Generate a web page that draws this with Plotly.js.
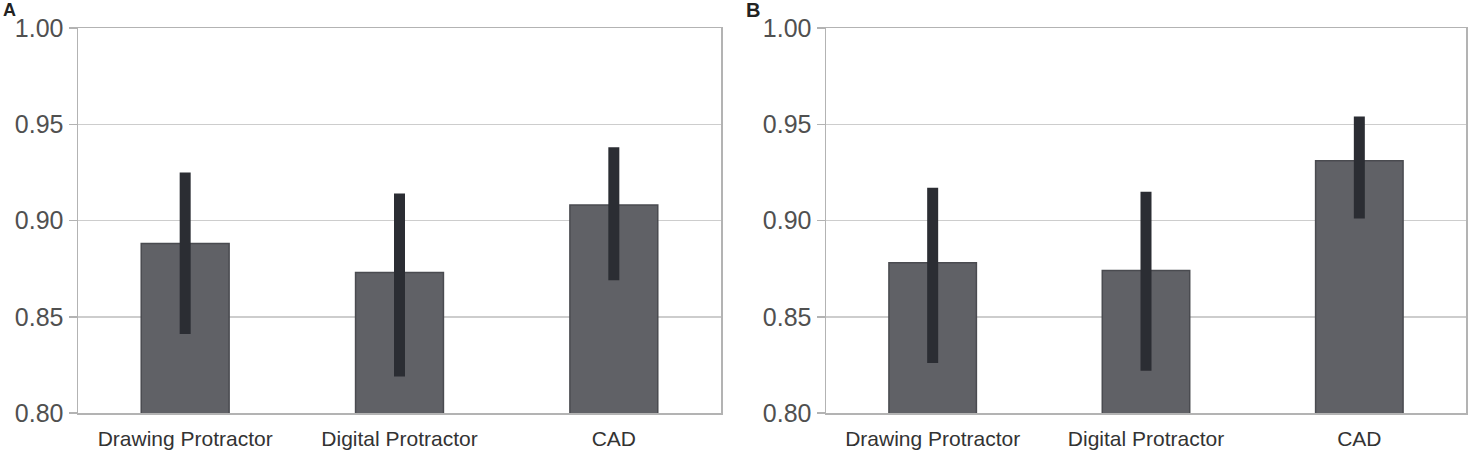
<!DOCTYPE html>
<html>
<head>
<meta charset="utf-8">
<script src="https://cdn.plot.ly/plotly-3.0.1.min.js"></script>
<style>html,body{margin:0;padding:0;background:#fff;}#chart{width:1471px;height:450px;}</style>
</head>
<body>
<div id="chart"></div>
<script>
const categories = ["Drawing Protractor", "Digital Protractor", "CAD"];
const valuesA = [0.888, 0.873, 0.908];
const upperA  = [0.925, 0.914, 0.938];
const lowerA  = [0.841, 0.819, 0.869];
const valuesB = [0.878, 0.874, 0.931];
const upperB  = [0.917, 0.915, 0.954];
const lowerB  = [0.826, 0.822, 0.901];
const yTicks = [0.80, 0.85, 0.90, 0.95, 1.00];
const yTickText = ["0.80", "0.85", "0.90", "0.95", "1.00"];
const panelLabels = ["A", "B"];

function barTrace(vals, up, lo, xa, ya) {
  return {
    type: "bar", x: categories, y: vals, xaxis: xa, yaxis: ya,
    width: 0.41,
    marker: {color: "#606166", line: {color: "#4a4b50", width: 1.5}},
    base: 0,
    error_y: {
      type: "data", symmetric: false,
      array: up.map((u, i) => u - vals[i]),
      arrayminus: lo.map((l, i) => vals[i] - l),
      thickness: 11, width: 0, color: "#2b2d33"
    },
    hoverinfo: "y", showlegend: false
  };
}

const yaxisBase = {
  range: [0.8, 1.0], tickvals: yTicks, ticktext: yTickText,
  showgrid: true, gridcolor: "#cdcdcd", gridwidth: 1.5,
  showline: true, linecolor: "#b3b3b3", linewidth: 1.5, mirror: true,
  ticks: "outside", ticklen: 8, tickcolor: "#b3b3b3", tickwidth: 1.5,
  tickfont: {family: "Liberation Sans, Arial, sans-serif", size: 25, color: "#505050"},
  zeroline: false, fixedrange: true
};
const xaxisBase = {
  showline: true, linecolor: "#b3b3b3", linewidth: 1.5, mirror: true,
  ticks: "", showgrid: false, ticklabelstandoff: 6,
  tickfont: {family: "Liberation Sans, Arial, sans-serif", size: 21, color: "#333"},
  fixedrange: true
};

const layout = {
  width: 1471, height: 450,
  margin: {l: 0, r: 0, t: 28, b: 37},
  paper_bgcolor: "#fff", plot_bgcolor: "#fff",
  bargap: 0.59,
  xaxis: Object.assign({}, xaxisBase, {domain: [78/1471, 721/1471], anchor: "y"}),
  yaxis: Object.assign({}, yaxisBase, {anchor: "x"}),
  xaxis2: Object.assign({}, xaxisBase, {domain: [826/1471, 1466/1471], anchor: "y2"}),
  yaxis2: Object.assign({}, yaxisBase, {anchor: "x2"}),
  annotations: [
    {text: "<b>" + panelLabels[0] + "</b>", xref: "paper", yref: "paper", x: 0.001, y: 1.046, xanchor: "left", yanchor: "middle", showarrow: false, font: {family: "Liberation Sans, Arial, sans-serif", size: 18, color: "#222"}},
    {text: "<b>" + panelLabels[1] + "</b>", xref: "paper", yref: "paper", x: 744/1471, y: 1.046, xanchor: "left", yanchor: "middle", showarrow: false, font: {family: "Liberation Sans, Arial, sans-serif", size: 20, color: "#222"}}
  ]
};

Plotly.newPlot("chart", [
  barTrace(valuesA, upperA, lowerA, "x", "y"),
  barTrace(valuesB, upperB, lowerB, "x2", "y2")
], layout, {staticPlot: true});
</script>
</body>
</html>
